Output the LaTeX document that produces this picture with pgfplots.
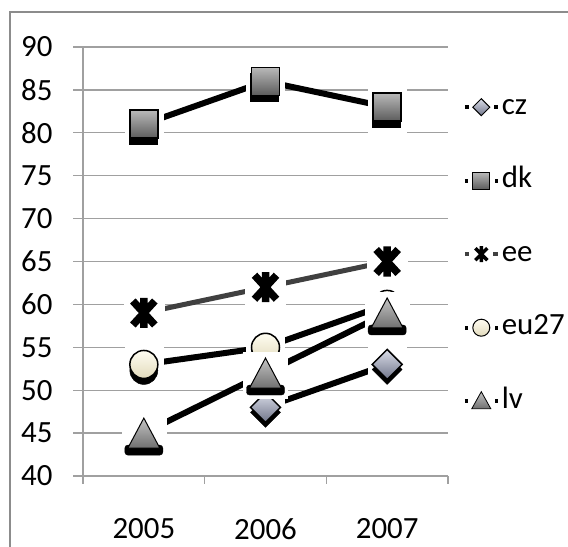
\documentclass[border=0pt]{standalone}
\usepackage{fontspec}
\setmainfont{Carlito}
\usepackage{pgfplots}
\pgfplotsset{compat=1.18}
\definecolor{gridc}{RGB}{160,160,160}
\definecolor{borderc}{RGB}{140,140,140}
\definecolor{eeline}{RGB}{64,64,64}
\definecolor{czTop}{RGB}{218,221,232}
\definecolor{czBot}{RGB}{112,117,138}
\definecolor{dkTop}{RGB}{185,185,185}
\definecolor{dkBot}{RGB}{92,92,92}
\definecolor{euTop}{RGB}{255,253,242}
\definecolor{euBot}{RGB}{226,219,188}
\definecolor{lvTop}{RGB}{195,195,195}
\definecolor{lvBot}{RGB}{112,112,112}

\pgfdeclareplotmark{czm}{%
  \fill[white] (-19bp,-24bp) rectangle (19bp,19bp);
  \fill[black] (0bp,-20bp)--(15bp,-5bp)--(0bp,10bp)--(-15bp,-5bp)--cycle;
  \shadedraw[top color=czTop,bottom color=czBot,draw=black,line width=1.5bp] (0bp,-15bp)--(15bp,0bp)--(0bp,15bp)--(-15bp,0bp)--cycle;
}
\pgfdeclareplotmark{dkm}{%
  \fill[white] (-19bp,-25bp) rectangle (19bp,18bp);
  \fill[black] (-15bp,-20bp) rectangle (13bp,8bp);
  \shadedraw[top color=dkTop,bottom color=dkBot,draw=black,line width=1.5bp] (-14bp,-14bp) rectangle (14bp,14bp);
}
\pgfdeclareplotmark{eem}{%
  \fill[white] (-20bp,-18bp) rectangle (20bp,19bp);
  \draw[black,line width=7.5bp] (-11bp,-12bp)--(11bp,12bp) (-11bp,12bp)--(11bp,-12bp) (0bp,-15bp)--(0bp,15bp);
}
\pgfdeclareplotmark{eum}{%
  \fill[white] (-19bp,-24bp) rectangle (19bp,19bp);
  \fill[black] (0bp,-6bp) circle (14bp);
  \shadedraw[top color=euTop,bottom color=euBot,draw=black,line width=1.5bp] (0bp,0bp) circle (14bp);
}
\pgfdeclareplotmark{lvm}{%
  \fill[white] (-22bp,-25bp) rectangle (22bp,21bp);
  \fill[black,rounded corners=3bp] (-19bp,-22bp) rectangle (19bp,-12bp);
  \shadedraw[top color=lvTop,bottom color=lvBot,draw=black,line width=1bp] (-16bp,-15bp)--(16bp,-15bp)--(0bp,15bp)--cycle;
}

\begin{document}
\begin{tikzpicture}
\begin{axis}[
  at={(83bp,71bp)}, anchor=south west,
  scale only axis, width=365bp, height=429bp,
  xmin=2004.5, xmax=2007.5, ymin=40, ymax=90,
  clip=false,
  axis lines*=left,
  axis line style={gridc, line width=1.3bp},
  xtick={2005,2006,2007}, xticklabels={2005,2006,2007},
  major x tick style={draw=none},
  minor xtick={2004.5,2005.5,2006.5,2007.5},
  minor x tick style={gridc, line width=1.3bp},
  minor tick length=8bp,
  ytick={40,45,...,90},
  yticklabels={40,45,50,55,60,65,70,75,80,85,90},
  major tick length=10bp,
  tick align=outside,
  ytick style={gridc, line width=1.3bp},
  ymajorgrids, grid style={gridc, line width=1.3bp},
  ticklabel style={font=\fontsize{31}{37}\selectfont, text=black},
  xticklabel style={yshift=-29bp},
  yticklabel style={xshift=-17bp},
  legend style={draw=none, fill=none, at={(1.04,0.9458)}, anchor=north west,
    font=\fontsize{31}{37}\selectfont, row sep=0pt, inner sep=0pt,
    nodes={inner xsep=2bp, inner ysep=0pt, text height=44bp, text depth=29.5bp}},
  legend cell align=left,
]
\addplot[black, line width=6bp, legend image code/.code={
   \draw[black,line width=4bp] (0bp,0bp)--(33bp,0bp);
   \fill[white] (7bp,-11bp) rectangle (26bp,11bp);
   \shadedraw[top color=czTop,bottom color=czBot,draw=black,line width=1bp] (16.5bp,-8.5bp)--(25bp,0bp)--(16.5bp,8.5bp)--(8bp,0bp)--cycle;}]
  coordinates {(2006,48) (2007,53)};
\addlegendentry{cz}
\addplot[black, line width=6bp, legend image code/.code={
   \draw[black,line width=4bp] (0bp,0bp)--(33bp,0bp);
   \fill[white] (6bp,-11bp) rectangle (27bp,11bp);
   \shadedraw[top color=dkTop,bottom color=dkBot,draw=black,line width=1bp] (8bp,-8.5bp) rectangle (25bp,8.5bp);}]
  coordinates {(2005,81) (2006,86) (2007,83)};
\addlegendentry{dk}
\addplot[eeline, line width=5bp, legend image code/.code={
   \draw[eeline,line width=4bp] (0bp,0bp)--(33bp,0bp);
   \fill[white] (7bp,-11bp) rectangle (26bp,11bp);
   \draw[black,line width=3.5bp] (10.5bp,-6bp)--(22.5bp,6bp) (10.5bp,6bp)--(22.5bp,-6bp) (16.5bp,-8bp)--(16.5bp,8bp);}]
  coordinates {(2005,59) (2006,62) (2007,65)};
\addlegendentry{ee}
\addplot[black, line width=6bp, legend image code/.code={
   \draw[black,line width=4bp] (0bp,0bp)--(33bp,0bp);
   \fill[white] (6bp,-11bp) rectangle (27bp,11bp);
   \shadedraw[top color=euTop,bottom color=euBot,draw=black,line width=1bp] (16.5bp,0bp) circle (8.5bp);}]
  coordinates {(2005,53) (2006,55) (2007,60)};
\addlegendentry{eu27}
\addplot[black, line width=6bp, legend image code/.code={
   \draw[black,line width=4bp] (0bp,0bp)--(33bp,0bp);
   \fill[white] (6bp,-11bp) rectangle (27bp,11bp);
   \shadedraw[top color=lvTop,bottom color=lvBot,draw=black,line width=0.8bp] (7bp,-7.5bp)--(26bp,-7.5bp)--(16.5bp,9.5bp)--cycle;}]
  coordinates {(2005,45) (2006,52) (2007,59)};
\addlegendentry{lv}
% markers drawn after all lines
\addplot[only marks, mark=czm, forget plot] coordinates {(2006,48) (2007,53)};
\addplot[only marks, mark=dkm, forget plot] coordinates {(2005,81) (2006,86) (2007,83)};
\addplot[only marks, mark=eem, forget plot] coordinates {(2005,59) (2006,62) (2007,65)};
\addplot[only marks, mark=eum, forget plot] coordinates {(2005,53) (2006,55) (2007,60)};
\addplot[only marks, mark=lvm, forget plot] coordinates {(2005,45) (2006,52) (2007,59)};
\end{axis}
\draw[borderc, line width=1.3bp] (10bp,-5bp)--(10bp,535bp)--(575bp,535bp);
\pgfresetboundingbox
\useasboundingbox (0bp,0bp) rectangle (568bp,547bp);
\end{tikzpicture}
\end{document}
